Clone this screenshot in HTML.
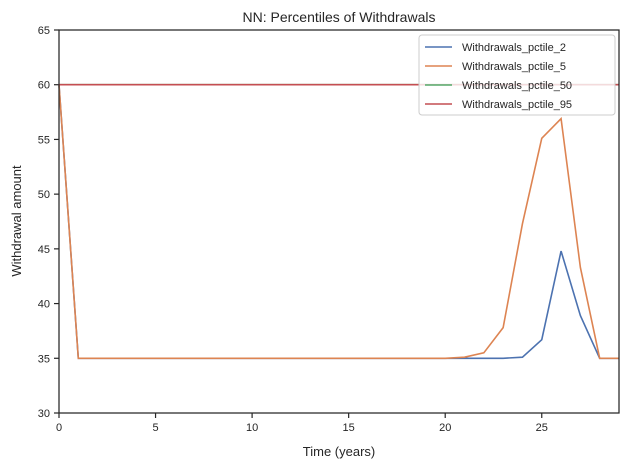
<!DOCTYPE html>
<html><head><meta charset="utf-8"><style>
body{margin:0;background:#fff;}
svg{display:block;font-family:"Liberation Sans","DejaVu Sans",sans-serif;}
</style></head><body>
<svg id="chart" width="629" height="469" viewBox="0 0 629 469" xmlns="http://www.w3.org/2000/svg">
<rect width="629" height="469" fill="#fff"/>
<text x="339" y="22" text-anchor="middle" font-size="14" fill="#262626">NN: Percentiles of Withdrawals</text>
<g id="ticks"></g>
<g id="series"></g>
<rect x="59" y="30" width="560" height="383" fill="none" stroke="#262626" stroke-width="1.25"/>
<text x="339" y="456" text-anchor="middle" font-size="13" fill="#262626">Time (years)</text>
<text transform="translate(21,221) rotate(-90)" text-anchor="middle" font-size="13" fill="#262626">Withdrawal amount</text>
<g id="legend"></g>
</svg>
<script>
const years = [0,1,2,3,4,5,6,7,8,9,10,11,12,13,14,15,16,17,18,19,20,21,22,23,24,25,26,27,28,29];
const pctile2 = [60,35,35,35,35,35,35,35,35,35,35,35,35,35,35,35,35,35,35,35,35,35,35,35,35.1,36.7,44.8,38.9,35,35];
const pctile5 = [60,35,35,35,35,35,35,35,35,35,35,35,35,35,35,35,35,35,35,35,35,35.1,35.5,37.8,47.3,55.1,56.9,43.3,35,35];
const pctile50 = [60,60,60,60,60,60,60,60,60,60,60,60,60,60,60,60,60,60,60,60,60,60,60,60,60,60,60,60,60,60];
const pctile95 = [60,60,60,60,60,60,60,60,60,60,60,60,60,60,60,60,60,60,60,60,60,60,60,60,60,60,60,60,60,60];
const xTicks = [0,5,10,15,20,25];
const yTicks = [30,35,40,45,50,55,60,65];
const seriesNames = ["Withdrawals_pctile_2","Withdrawals_pctile_5","Withdrawals_pctile_50","Withdrawals_pctile_95"];

const NS="http://www.w3.org/2000/svg";
const X0=59,X1=619,Y0=413,Y1=30;
const xs=v=>X0+(v-0)/(29-0)*(X1-X0);
const ys=v=>Y0-(v-30)/(65-30)*(Y0-Y1);
function mk(tag,attrs,parent){const e=document.createElementNS(NS,tag);for(const k in attrs)e.setAttribute(k,attrs[k]);parent.appendChild(e);return e;}
const tg=document.getElementById('ticks');
xTicks.forEach(t=>{
  const l=mk('line',{x1:xs(t),x2:xs(t),y1:Y0,y2:Y0+5,stroke:'#262626','stroke-width':1.2},tg);
  
  
  const tx=mk('text',{x:xs(t),y:Y0+18,'text-anchor':'middle','font-size':11,fill:'#262626'},tg);tx.textContent=t;
  
  
});
yTicks.forEach(t=>{
  const l=mk('line',{x1:X0-5,x2:X0,y1:ys(t),y2:ys(t),stroke:'#262626','stroke-width':1.2},tg);
  
  
  const tx=mk('text',{x:X0-9,y:ys(t)+4,'text-anchor':'end','font-size':11,fill:'#262626'},tg);tx.textContent=t;
  
  
});
const colors=['#4c72b0','#dd8452','#55a868','#c44e52'];
const data=[pctile2,pctile5,pctile50,pctile95];
const sg=document.getElementById('series');
data.forEach((d,i)=>{
  const p=mk('polyline',{points:d.map((v,j)=>xs(years[j])+','+ys(v)).join(' '),fill:'none',stroke:colors[i],'stroke-width':1.6},sg);
  
  
});
const lg=document.getElementById('legend');
mk('rect',{x:419,y:35,width:196,height:80,rx:3,fill:'#fff','fill-opacity':0.8,stroke:'#ccc','stroke-width':1},lg);
seriesNames.forEach((n,i)=>{
  const y=47+i*19;
  const l=mk('line',{x1:425,x2:452,y1:y,y2:y,stroke:colors[i],'stroke-width':1.6},lg);
  
  
  const t=mk('text',{x:462,y:y+4,'font-size':11,fill:'#262626'},lg);t.textContent=n;
  
  
});
</script>
</body></html>
